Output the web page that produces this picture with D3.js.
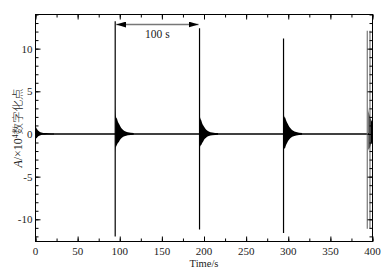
<!DOCTYPE html>
<html>
<head>
<meta charset="utf-8">
<script src="https://cdn.jsdelivr.net/npm/d3@7"></script>
<style>
  body { margin: 0; background: #fff; }
  svg { display: block; }
  text { font-family: "Liberation Serif", "Times New Roman", "DejaVu Serif", serif; }
</style>
</head>
<body>
<div id="chart"></div>
<script>
// Tick labels
const xTicks = [0, 50, 100, 150, 200, 250, 300, 350, 400];
const yTicks = [-10, -5, 0, 5, 10];

// Impulse spikes: time (s), top and bottom of each (x10^4 counts)
const spikeTimes = [94.6, 194.7, 294.4, 393.8, 397.0];
const spikeTops = [13.2, 12.4, 11.2, 12.1, 12.1];
const spikeBottoms = [-12.0, -11.2, -11.6, -11.1, -11.1];

// Decaying bursts after each shot: start time and envelope
const burstStarts = [0, 94.6, 194.7, 294.4, 395.2];
const burstOffsets = [0, 0.4, 1, 2, 3, 4.5, 6, 8, 11, 15, 22];
const burstUpper = [
  [1.2, 0.9, 0.7, 0.55, 0.4, 0.3, 0.2, 0.15, 0.1, 0.08, 0.05],
  [3.4, 2.4, 2.0, 1.8, 1.5, 1.2, 0.9, 0.6, 0.35, 0.2, 0.1],
  [2.6, 2.1, 1.8, 1.6, 1.3, 1.0, 0.75, 0.5, 0.3, 0.18, 0.1],
  [2.9, 2.3, 2.0, 1.9, 1.6, 1.3, 1.0, 0.7, 0.4, 0.22, 0.1],
  [3.2, 2.6, 2.3, 2.0, 1.7, 1.4, 1.1, 0.7, 0.4, 0.2, 0.1]
];
const burstLower = [
  [-0.8, -0.6, -0.5, -0.4, -0.3, -0.22, -0.15, -0.1, -0.08, -0.06, -0.05],
  [-2.2, -1.7, -1.5, -1.3, -1.1, -0.9, -0.65, -0.45, -0.28, -0.15, -0.08],
  [-2.0, -1.6, -1.4, -1.3, -1.1, -0.85, -0.6, -0.4, -0.25, -0.15, -0.08],
  [-2.2, -1.8, -1.7, -1.6, -1.3, -1.0, -0.75, -0.5, -0.3, -0.18, -0.08],
  [-2.0, -1.8, -1.7, -1.5, -1.2, -0.9, -0.7, -0.45, -0.28, -0.15, -0.08]
];

const W = 391, H = 275;
const mLeft = 35.5, mRight = 372.5, mTop = 14.5, mBottom = 241.5;

const svg = d3.select("#chart").append("svg")
  .attr("width", W).attr("height", H);

const x = d3.scaleLinear().domain([0, 400]).range([mLeft, mRight]);
const y = d3.scaleLinear().domain([-12.6, 14]).range([mBottom, mTop]);

const defs = svg.append("defs");
defs.append("clipPath").attr("id", "clip")
  .append("rect").attr("x", mLeft).attr("y", mTop)
  .attr("width", mRight - mLeft).attr("height", mBottom - mTop);

const plot = svg.append("g").attr("clip-path", "url(#clip)");

// Baseline trace
plot.append("line")
  .attr("x1", x(0)).attr("x2", x(400))
  .attr("y1", y(0)).attr("y2", y(0))
  .attr("stroke", "#000").attr("stroke-width", 1.6);

// Bursts
const area = d3.area()
  .x(d => x(d.t))
  .y0(d => y(d.lo))
  .y1(d => y(d.hi))
  .curve(d3.curveMonotoneX);

burstStarts.forEach((t0, i) => {
  const pts = burstOffsets.map((o, k) => ({ t: t0 + o, hi: burstUpper[i][k], lo: burstLower[i][k] }));
  plot.append("path").datum(pts).attr("d", area).attr("fill", "#000");
});

// Spikes
plot.selectAll(".spike")
  .data(spikeTimes)
  .enter()
  .append("line")
  .attr("class", "spike")
  .attr("x1", d => x(d)).attr("x2", d => x(d))
  .attr("y1", (d, i) => y(spikeTops[i]))
  .attr("y2", (d, i) => y(spikeBottoms[i]))
  .attr("stroke", (d, i) => i >= 3 ? "#777" : "#000")
  .attr("stroke-width", 1.2);

// Axes with inward ticks, minor and major
const xMinor = d3.range(0, 401, 25), yMinor = d3.range(-12, 15, 1);

[[d3.axisBottom, `translate(0,${mBottom})`, x, xTicks, xMinor],
 [d3.axisTop, `translate(0,${mTop})`, x, xTicks, xMinor],
 [d3.axisLeft, `translate(${mLeft},0)`, y, yTicks, yMinor],
 [d3.axisRight, `translate(${mRight},0)`, y, yTicks, yMinor]]
  .forEach(([fn, tr, sc, maj, min]) => {
    const g1 = svg.append("g").attr("transform", tr);
    const g2 = svg.append("g").attr("transform", tr);
    g1.call(fn(sc).tickValues(min).tickSize(-3).tickFormat(""));
    g2.call(fn(sc).tickValues(maj).tickSize(-5).tickFormat(""));
    [g1, g2].forEach(g => {
      g.select(".domain").remove();
      g.selectAll("line").attr("stroke", "#000");
    });
  });

// Frame
svg.append("rect")
  .attr("x", mLeft).attr("y", mTop)
  .attr("width", mRight - mLeft).attr("height", mBottom - mTop)
  .attr("fill", "none").attr("stroke", "#000").attr("stroke-width", 1);

// Tick labels
svg.selectAll(".xl")
  .data(xTicks)
  .enter()
  .append("text")
  .attr("x", d => x(d))
  .attr("y", mBottom + 13)
  .attr("text-anchor", "middle")
  .attr("font-size", 11)
  .attr("fill", "#222")
  .text(d => d);

svg.selectAll(".yl")
  .data(yTicks)
  .enter()
  .append("text")
  .attr("x", mLeft - 3)
  .attr("y", d => y(d) + 4)
  .attr("text-anchor", "end")
  .attr("font-size", 11)
  .attr("fill", "#222")
  .text(d => String(d));

// Axis titles
svg.append("text")
  .attr("x", x(200))
  .attr("y", 267)
  .attr("text-anchor", "middle")
  .attr("font-size", 10.5)
  .attr("fill", "#222")
  .text("Time/s");

const yl = svg.append("text")
  .attr("transform", `translate(22,${(mTop + mBottom) / 2}) rotate(-90)`)
  .attr("text-anchor", "middle")
  .attr("font-size", 12)
  .attr("fill", "#222");
yl.append("tspan").attr("font-style", "italic").text("A");
yl.append("tspan").text("/×10");
yl.append("tspan").attr("font-size", 7.5).attr("dy", -4.5).text("4");
yl.append("tspan").attr("dy", 4.5)
  .style("font-family", "'Noto Sans CJK SC', sans-serif")
  .attr("font-size", 11.5)
  .attr("font-weight", 300)
  .text("数字化点");

// 100 s interval arrow
defs.append("marker").attr("id", "ah")
  .attr("viewBox", "0 0 10 6").attr("refX", 10).attr("refY", 3)
  .attr("markerWidth", 10).attr("markerHeight", 6)
  .attr("markerUnits", "userSpaceOnUse")
  .attr("orient", "auto-start-reverse")
  .append("path").attr("d", "M0,0 L10,3 L0,6 Z").attr("fill", "#000");

const ay = 24.5;
svg.append("line")
  .attr("x1", x(spikeTimes[0]) + 1).attr("x2", x(spikeTimes[1]) - 1)
  .attr("y1", ay).attr("y2", ay)
  .attr("stroke", "#777").attr("stroke-width", 1.3)
  .attr("marker-start", "url(#ah)").attr("marker-end", "url(#ah)");

svg.append("text")
  .attr("x", (x(spikeTimes[0]) + x(spikeTimes[1])) / 2)
  .attr("y", 38)
  .attr("text-anchor", "middle")
  .attr("font-size", 11.5)
  .attr("fill", "#222")
  .text("100 s");
</script>
</body>
</html>
